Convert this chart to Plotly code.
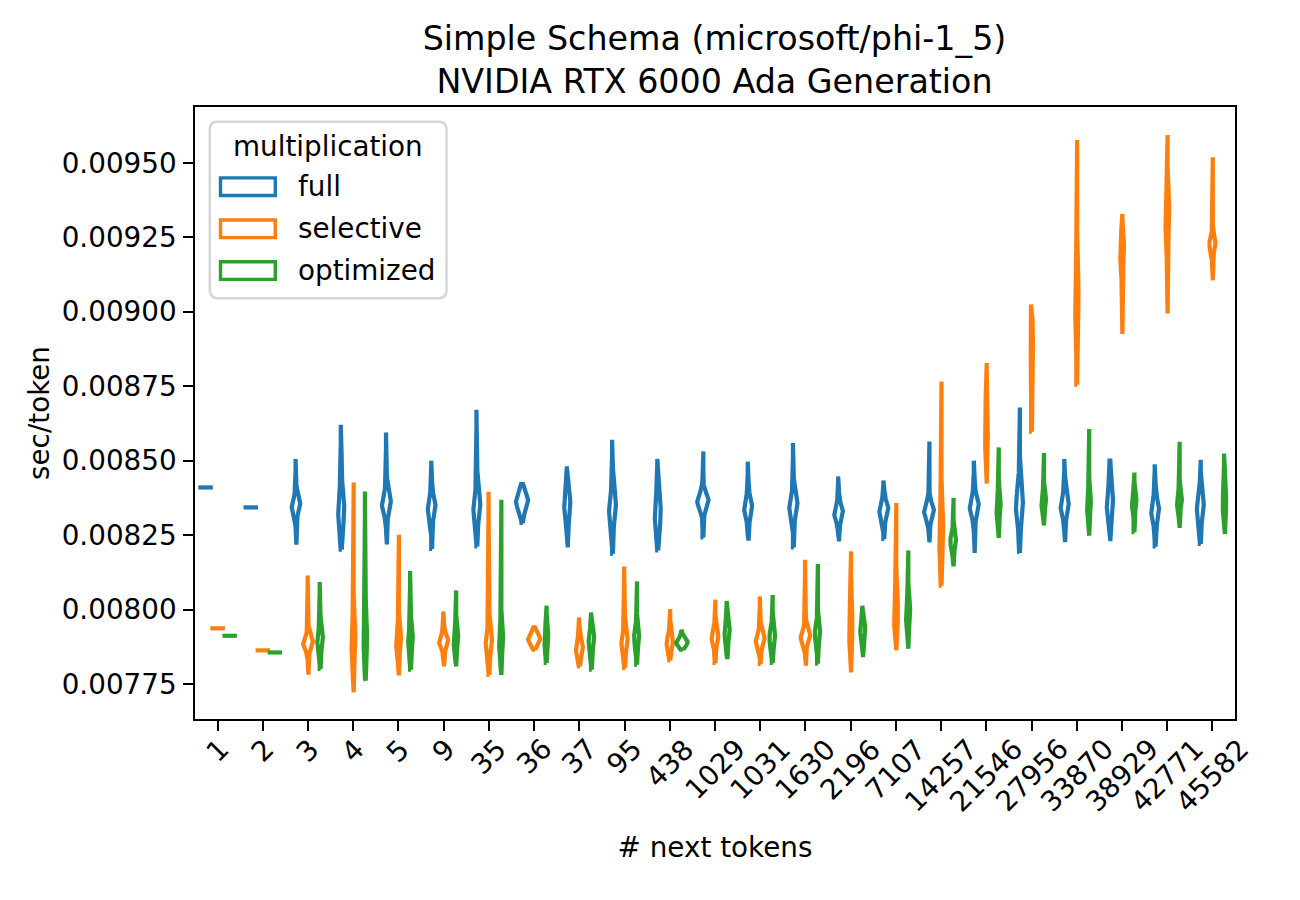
import numpy as np
import plotly.graph_objects as go

# ---------------- data ----------------
categories = ["1", "2", "3", "4", "5", "9", "35", "36", "37", "95", "438", "1029", "1031",
              "1630", "2196", "7107", "14257", "21546", "27956", "33870", "38929", "42771", "45582"]
hues = ["full", "selective", "optimized"]

full_lo = [0.008410, 0.008343, 0.0082178, 0.0082010, 0.0082188, 0.0082033, 0.0082121, 0.0082906,
           0.0082087, 0.0081875, 0.0081986, 0.0082423, 0.0082312, 0.0082087, 0.0082289, 0.0082369,
           0.0082255, 0.0081899, 0.0081899, 0.0082262, 0.0082299, 0.0082117, 0.0082201]
full_hi = [0.008410, 0.008343, 0.0085055, 0.0086207, 0.0085948, 0.0084998, 0.0086710, 0.0084216,
           0.0084807, 0.0085703, 0.0085055, 0.0085310, 0.0084964, 0.0085592, 0.0084471, 0.0084337,
           0.0085646, 0.0084998, 0.0086787, 0.0085055, 0.0084998, 0.0084877, 0.0085031]
full_mode = [0.008410, 0.008343, 0.0083497, 0.0083353, 0.0083554, 0.0083443, 0.0083443, 0.0083631,
             0.0083521, 0.0083410, 0.0083252, 0.0083631, 0.0083410, 0.0083487, 0.0083242, 0.0083353,
             0.0083296, 0.0083464, 0.0083464, 0.0083474, 0.0083558, 0.0083319, 0.0083437]
full_density = [0, 0, 0.66, 0.44, 0.69, 0.58, 0.52, 0.94, 0.44, 0.52, 0.44, 0.88, 0.60, 0.63,
                0.66, 0.69, 0.75, 0.69, 0.52, 0.61, 0.46, 0.58, 0.52]
full_spread = [0, 0, 2.2e-5, 5.5e-5, 3.0e-5, 3.0e-5, 3.7e-5, 2.8e-5, 4.7e-5, 3.9e-5, 5.0e-5,
               2.5e-5, 3.0e-5, 3.0e-5, 2.5e-5, 2.5e-5, 2.5e-5, 3.0e-5, 5.0e-5, 3.0e-5, 4.2e-5,
               3.4e-5, 3.4e-5]

selective_lo = [0.007937, 0.007863, 0.0077813, 0.0077218, 0.0077789, 0.0078092, 0.0077803, 0.0078652,
                0.0078092, 0.0078038, 0.0078293, 0.0078206, 0.0078172, 0.0078115, 0.0077890, 0.0078629,
                0.0080801, 0.0084226, 0.0085975, 0.0087550, 0.0089252, 0.0089937, 0.0091052]
selective_hi = [0.007937, 0.007863, 0.0081147, 0.0084269, 0.0082513, 0.0079938, 0.0083957, 0.0079401,
                0.0079737, 0.0081449, 0.0080019, 0.0080331, 0.0080442, 0.0081674, 0.0081953, 0.0083578,
                0.0087660, 0.0088278, 0.0090242, 0.0095762, 0.0093281, 0.0095930, 0.0095188]
selective_mode = [0.007937, 0.007863, 0.0078877, 0.0078988, 0.0078964, 0.0078931, 0.0078931, 0.0079012,
                  0.0078709, 0.0078931, 0.0078877, 0.0079045, 0.0078988, 0.0079099, 0.0079435, 0.0079884,
                  0.0082570, 0.0086039, 0.0089128, 0.0090450, 0.0092069, 0.0093271, 0.0092250]
selective_density = [0, 0, 0.75, 0.30, 0.38, 0.69, 0.46, 0.94, 0.52, 0.46, 0.46, 0.50, 0.69, 0.75,
                     0.25, 0.30, 0.30, 0.19, 0.19, 0.25, 0.30, 0.30, 0.44]
selective_spread = [0, 0, 2.0e-5, 4.2e-5, 3.0e-5, 2.0e-5, 3.0e-5, 1.7e-5, 2.5e-5, 2.5e-5, 2.0e-5,
                    2.2e-5, 2.0e-5, 2.0e-5, 5.0e-5, 5.0e-5, 5.9e-5, 5.9e-5, 5.0e-5, 6.7e-5, 3.4e-5,
                    5.0e-5, 2.0e-5]

optimized_lo = [0.007912, 0.007856, 0.0078004, 0.0077611, 0.0077981, 0.0078092, 0.0077803, 0.0078206,
                0.0077981, 0.0078149, 0.0078652, 0.0078340, 0.0078206, 0.0078182, 0.0078407, 0.0078686,
                0.0081449, 0.0082403, 0.0082826, 0.0082480, 0.0082597, 0.0082742, 0.0082537]
optimized_hi = [0.007912, 0.007856, 0.0080925, 0.0083967, 0.0081294, 0.0080643, 0.0083688, 0.0080130,
                0.0079905, 0.0080945, 0.0079324, 0.0080287, 0.0080489, 0.0081530, 0.0080130, 0.0081986,
                0.0083745, 0.0085444, 0.0085256, 0.0086062, 0.0084598, 0.0085633, 0.0085236]
optimized_mode = [0.007912, 0.007856, 0.0078988, 0.0078988, 0.0078988, 0.0079012, 0.0078988, 0.0079045,
                  0.0079012, 0.0079045, 0.0078897, 0.0079267, 0.0079045, 0.0079179, 0.0079324, 0.0079884,
                  0.0082289, 0.0083464, 0.0083631, 0.0083558, 0.0083621, 0.0083642, 0.0083558]
optimized_density = [0, 0, 0.41, 0.25, 0.33, 0.36, 0.30, 0.30, 0.41, 0.36, 0.91, 0.38, 0.41, 0.38,
                     0.36, 0.33, 0.41, 0.33, 0.36, 0.30, 0.36, 0.38, 0.25]
optimized_spread = [0, 0, 2.5e-5, 4.2e-5, 2.5e-5, 2.5e-5, 3.0e-5, 2.5e-5, 2.5e-5, 2.5e-5, 1.3e-5,
                    2.5e-5, 2.5e-5, 2.5e-5, 2.5e-5, 3.0e-5, 2.0e-5, 2.5e-5, 2.0e-5, 2.5e-5, 2.0e-5,
                    2.0e-5, 3.4e-5]

y_ticks = [0.00775, 0.00800, 0.00825, 0.00850, 0.00875, 0.00900, 0.00925, 0.00950]

# ---------------- style ----------------
colors = ["#1f77b4", "#ff7f0e", "#2ca02c"]
FONT = "DejaVu Sans"
TICK_FS = 27.8
TITLE_FS = 33.3
LW = 4.2
TAIL = 0.07

OFF = 8                      # page body margin of the browser
W, H = 1300 - OFF, 900 - OFF
L, R, T, B = 195, 1235, 107, 719   # plot area in screenshot pixels

def px(X):
    return (X - L) / (R - L)

def py(Y):
    return (B - Y) / (B - T)

series = [
    (full_lo, full_hi, full_mode, full_density, full_spread),
    (selective_lo, selective_hi, selective_mode, selective_density, selective_spread),
    (optimized_lo, optimized_hi, optimized_mode, optimized_density, optimized_spread),
]

n_hue = len(hues)
dodge = 0.8 / n_hue
offsets = [(h - (n_hue - 1) / 2) * dodge for h in range(n_hue)]
half_max = dodge / 2

fig = go.Figure()

for h, (lo, hi, mode, dens, spr) in enumerate(series):
    for i, cat in enumerate(categories):
        xc = i + offsets[h]
        if hi[i] == lo[i]:
            xs = [xc - 0.16, xc + 0.16]
            ys = [lo[i], lo[i]]
        else:
            y = np.linspace(lo[i], hi[i], 160)
            w = half_max * (dens[i] * np.exp(-0.5 * ((y - mode[i]) / spr[i]) ** 2) + TAIL)
            xs = np.concatenate([xc + w, (xc - w)[::-1], [xc + w[0]]])
            ys = np.concatenate([y, y[::-1], [y[0]]])
        fig.add_trace(go.Scatter(
            x=xs, y=ys, mode="lines",
            line=dict(color=colors[h], width=LW),
            name=hues[h], legendgroup=hues[h], showlegend=False,
            hoverinfo="skip",
        ))

# x tick labels (rotated, centred under ticks like matplotlib)
annotations = []
for i, cat in enumerate(categories):
    annotations.append(dict(
        x=i, xref="x", y=py(730), yref="paper",
        text=cat, showarrow=False, textangle=-45,
        xanchor="center", yanchor="top",
        font=dict(family=FONT, size=TICK_FS, color="black"),
    ))

# ---------------- legend (matplotlib style) ----------------
shapes = []
x0, x1, y0, y1, r = 209.8, 446.5, 121.7, 298.3, 8
def P(X, Y):
    return f"{px(X):.5f},{py(Y):.5f}"
path = (f"M {P(x0 + r, y0)} L {P(x1 - r, y0)} Q {P(x1, y0)} {P(x1, y0 + r)} "
        f"L {P(x1, y1 - r)} Q {P(x1, y1)} {P(x1 - r, y1)} "
        f"L {P(x0 + r, y1)} Q {P(x0, y1)} {P(x0, y1 - r)} "
        f"L {P(x0, y0 + r)} Q {P(x0, y0)} {P(x0 + r, y0)} Z")
shapes.append(dict(type="path", xref="paper", yref="paper", path=path,
                   line=dict(color="#d6d6d6", width=2.5), fillcolor="rgba(255,255,255,0.8)",
                   layer="above"))
annotations.append(dict(x=px(327.5), y=py(146), xref="paper", yref="paper",
                        text="multiplication", showarrow=False,
                        xanchor="center", yanchor="middle",
                        font=dict(family=FONT, size=TICK_FS, color="black")))
item_y = [186.7, 228.8, 270.6]
for h, name in enumerate(hues):
    cy = item_y[h]
    shapes.append(dict(type="rect", xref="paper", yref="paper",
                       x0=px(220.5), x1=px(275.3), y0=py(cy - 8.8), y1=py(cy + 8.8),
                       line=dict(color=colors[h], width=3.4), fillcolor="rgba(0,0,0,0)",
                       layer="above"))
    annotations.append(dict(x=px(296), y=py(cy), xref="paper", yref="paper",
                            text=name, showarrow=False, xanchor="left", yanchor="middle",
                            font=dict(family=FONT, size=TICK_FS, color="black")))

fig.update_layout(
    width=W, height=H,
    margin=dict(l=L - OFF, r=W - (R - OFF), t=T - OFF, b=H - (B - OFF), pad=0),
    paper_bgcolor="white", plot_bgcolor="white",
    font=dict(family=FONT, size=TICK_FS, color="black"),
    title=dict(text="Simple Schema (microsoft/phi-1_5)<br>NVIDIA RTX 6000 Ada Generation",
               x=px(714.5), xref="paper", xanchor="center",
               y=1 - 41.5 / H, yref="container", yanchor="middle",
               font=dict(family=FONT, size=TITLE_FS, color="black")),
    showlegend=False,
    shapes=shapes,
    annotations=annotations,
)

fig.update_xaxes(
    range=[-0.5, len(categories) - 0.5],
    tickmode="array", tickvals=list(range(len(categories))),
    showticklabels=False,
    ticks="outside", ticklen=9.7, tickwidth=2.2, tickcolor="black",
    showline=True, linecolor="black", linewidth=2.2, mirror=True,
    showgrid=False, zeroline=False,
    title=dict(text="# next tokens", standoff=108,
               font=dict(family=FONT, size=TICK_FS, color="black")),
)
fig.update_yaxes(
    range=[0.0076326, 0.0096873],
    tickmode="array", tickvals=y_ticks, tickformat=".5f",
    ticks="outside", ticklen=9.7, tickwidth=2.2, tickcolor="black",
    ticklabelstandoff=1,
    tickfont=dict(family=FONT, size=TICK_FS, color="black"),
    showline=True, linecolor="black", linewidth=2.2, mirror=True,
    showgrid=False, zeroline=False,
    title=dict(text="sec/token", standoff=4,
               font=dict(family=FONT, size=TICK_FS, color="black")),
)

fig.write_html("out.html")
